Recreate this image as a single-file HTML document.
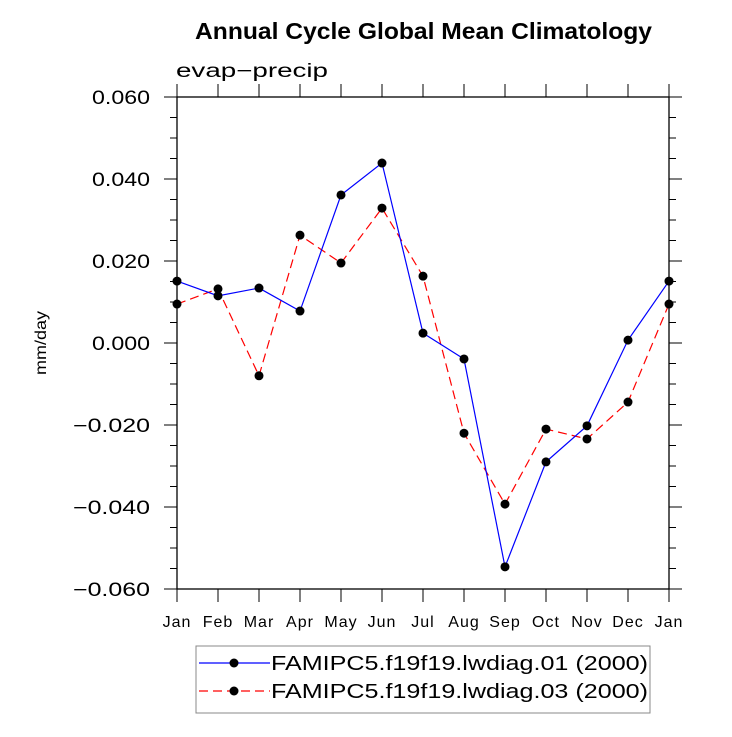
<!DOCTYPE html>
<html><head><meta charset="utf-8"><style>
body{margin:0;background:#fff;}
svg text{font-family:"Liberation Sans","DejaVu Sans",sans-serif;fill:#000;}
</style></head><body>
<svg id="chart" width="732" height="732">
<text x="195" y="39" textLength="457" lengthAdjust="spacingAndGlyphs" font-size="23" font-weight="bold">Annual Cycle Global Mean Climatology</text>
<text x="176" y="77" textLength="152" lengthAdjust="spacingAndGlyphs" font-size="19">evap−precip</text>
<text transform="translate(46,343) rotate(-90)" text-anchor="middle" textLength="64" lengthAdjust="spacingAndGlyphs" font-size="16">mm/day</text>
<g id="axes"></g>
<g id="series"></g>
<g>
<rect x="196" y="646" width="454" height="67" fill="none" stroke="#888" stroke-width="1"/>
<line x1="199" y1="663" x2="270" y2="663" stroke="#0000ff" stroke-width="1.2"/>
<circle cx="234" cy="663" r="4.5" fill="#000"/>
<text x="271" y="670" textLength="377" lengthAdjust="spacingAndGlyphs" font-size="20">FAMIPC5.f19f19.lwdiag.01 (2000)</text>
<line x1="199" y1="691" x2="270" y2="691" stroke="#ff0000" stroke-width="1.2" stroke-dasharray="9,5"/>
<circle cx="234" cy="691" r="4.5" fill="#000"/>
<text x="271" y="698" textLength="377" lengthAdjust="spacingAndGlyphs" font-size="20">FAMIPC5.f19f19.lwdiag.03 (2000)</text>
</g>
</svg>
<script>
const months=["Jan","Feb","Mar","Apr","May","Jun","Jul","Aug","Sep","Oct","Nov","Dec","Jan"];
const series01=[0.0151,0.0115,0.0134,0.0078,0.0361,0.0439,0.0024,-0.0039,-0.0546,-0.029,-0.0202,0.0007,0.0151];
const series03=[0.0095,0.0132,-0.008,0.0263,0.0195,0.0329,0.0163,-0.022,-0.0393,-0.021,-0.0234,-0.0144,0.0095];
const yTicks=[0.06,0.04,0.02,0,-0.02,-0.04,-0.06];
const yLabels=["0.060","0.040","0.020","0.000","\u22120.020","\u22120.040","\u22120.060"];
const NS="http://www.w3.org/2000/svg";
const L=177,R=669,T=97,B=589;
const xs=i=>L+(R-L)*i/(months.length-1);
const ys=v=>T+(0.06-v)/0.12*(B-T);
function mk(tag,attrs,parent){const e=document.createElementNS(NS,tag);for(const k in attrs)e.setAttribute(k,attrs[k]);parent.appendChild(e);return e;}
const ax=document.getElementById('axes');
const frame=mk('rect',{x:L,y:T,width:R-L,height:B-T,fill:'none',stroke:'#000','stroke-width':1.3},ax);


for(let v=-0.06;v<=0.0601;v+=0.005){
  const y=ys(v);const maj=Math.abs(Math.round(v*1000)%20)===0;const len=maj?13:7;
  mk('line',{x1:L-len,y1:y,x2:L,y2:y,stroke:'#000','stroke-width':1},ax);
  mk('line',{x1:R,y1:y,x2:R+len,y2:y,stroke:'#000','stroke-width':1},ax);
}
yTicks.forEach((v,i)=>{
  const neg=yLabels[i].charAt(0)==='\u2212';
  const t=mk('text',{x:150,y:ys(v)+7,'text-anchor':'end','font-size':19,textLength:neg?77:58,lengthAdjust:'spacingAndGlyphs'},ax);
  t.textContent=yLabels[i];
  
  
});
months.forEach((m,i)=>{
  const x=xs(i);
  mk('line',{x1:x,y1:B,x2:x,y2:B+13,stroke:'#000','stroke-width':1},ax);
  mk('line',{x1:x,y1:T-13,x2:x,y2:T,stroke:'#000','stroke-width':1},ax);
  const t=mk('text',{x:x,y:627,'text-anchor':'middle','font-size':16,'letter-spacing':'1'},ax);
  t.textContent=m;
  
  
});
const sg=document.getElementById('series');
function draw(data,color,dash,name){
  const g=mk('g',{},sg);
  
  
  const pts=data.map((v,i)=>xs(i)+','+ys(v)).join(' ');
  const a={points:pts,fill:'none',stroke:color,'stroke-width':1.2};
  if(dash)a['stroke-dasharray']=dash;
  mk('polyline',a,g);
  data.forEach((v,i)=>{
    const c=mk('circle',{cx:xs(i),cy:ys(v),r:4.5,fill:'#000'},g);
    
    
  });
}
draw(series03,'#ff0000','9,5','series-lwdiag-03');
draw(series01,'#0000ff',null,'series-lwdiag-01');
</script>
</body></html>
